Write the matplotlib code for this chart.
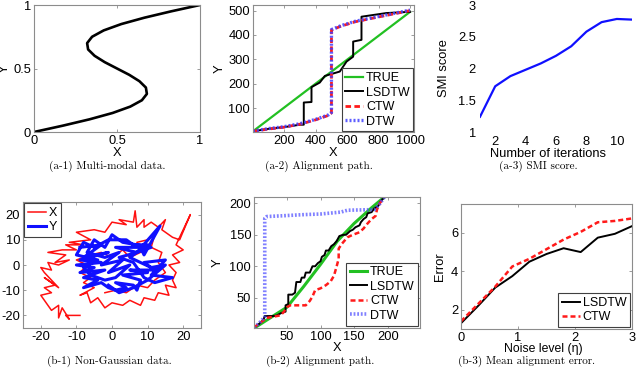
import matplotlib
matplotlib.use('Agg')
import matplotlib.pyplot as plt

plt.rcParams['font.family'] = ['Liberation Sans', 'DejaVu Sans']
plt.rcParams['axes.unicode_minus'] = False

# (a-1) multi-modal data
s_y = [0.0, 0.05, 0.1, 0.15, 0.2, 0.25, 0.3, 0.35, 0.4, 0.45, 0.5,
       0.55, 0.6, 0.65, 0.7, 0.75, 0.8, 0.85, 0.9, 0.95, 1.0]
s_x = [0.0, 0.174, 0.335, 0.474, 0.580, 0.650, 0.680, 0.674, 0.635, 0.574, 0.500,
       0.426, 0.365, 0.326, 0.320, 0.350, 0.420, 0.526, 0.665, 0.826, 1.0]

# (a-2) alignment path
a2_true_x = [1, 1000]
a2_true_y = [5, 495]
a2_lsdtw_x = [1, 100, 200, 300, 324, 324, 373, 373, 426, 458, 553, 596, 638, 638, 691, 691, 850, 1000]
a2_lsdtw_y = [5, 15, 22, 32, 32, 123, 125, 186, 205, 232, 250, 291, 311, 373, 380, 475, 490, 495]
a2_ctw_x = [1, 100, 200, 300, 400, 480, 500, 500, 560, 650, 800, 1000]
a2_ctw_y = [5, 14, 22, 34, 52, 70, 80, 420, 436, 454, 474, 500]
a2_dtw_x = [1, 100, 200, 300, 400, 480, 500, 500, 560, 650, 800, 1000]
a2_dtw_y = [6, 16, 24, 36, 54, 72, 82, 422, 438, 456, 476, 502]

# (a-3) SMI score
iters = [1, 2, 3, 4, 5, 6, 7, 8, 9, 10, 11]
smi = [1.24, 1.72, 1.88, 1.98, 2.08, 2.20, 2.35, 2.58, 2.73, 2.78, 2.77]

# (b-1) non-gaussian data
bx_x = [-9, -13, -12, -14, -15, -15, -17, -19, -20, -17, -19, -16, -19, -15, -19, -20, -17, -18,
        -15, -12, -16, -13, -18, -14, -10, -13, -8, -12, -6, -10, -5, -2, 0, 4, 2, 6, 6.5, 7, 9,
        9, 11, 13, 15, 14, 17, 19, 22, 18, 20, 17, 19, 16, 18, 17, 18, 15, 16, 13, 12, 9, 8, 5,
        3, 0, -2, -4, -6, -7, -9, -5, -8, -6, -9, -7, -10, -6, -3, 0, 3, 5, 8, 7, 10, 12, 11, 14,
        13, 15, 12, 10, 7, 4, 1, -2]
bx_y = [-20, -20, -21.5, -17, -21, -16, -18, -14, -12, -11, -9, -8, -5, -9, -3, -1, -2, 1,
        0, 2, 1, 4, 5, 6, 6, 8, 8, 9, 10, 13, 14, 13, 17, 16, 18, 17, 21.5, 15, 18,
        15, 17, 15, 18, 14, 11, 10, 20, 8, 6, 4, 1, 0, -3, -6, -9, -8, -12, -11, -14, -13, -16, -14,
        -16, -15, -17, -13, -15, -11, -12, -9, -7, -5, -3, 0, 2, 4, 5, 3, 6, 3, 5, 9, 10, 12, 7, 5,
        1, -3, -6, -9, -8, -11, -10, -11]
by_x = [-9, -3, -8, -1, -9, -3, -10, -5, -9, -2, -8, -4, -8, -3, -1, 1, 4, 1, 6, 7, 8, 3, 10, 5,
        12, 9, 15, 11, 17, 12, 9, 6, 2, 7, 1, 8, 9, 13.5, 7, 11, 3, 0, -2, -5, -7, -2, 2, -3,
        3, -1, 5, 1, -2, -6, -8, -4, -10, -8, -5, -1, 4, 6, 10, 5, 11, 15, 10, 6, 2, -1]
by_y = [7, 8, 3, 5, 2, 1, 0, -1, -3, -2, -5, -6, -9, -7, -9, -10, -9, -7, -8, -10, -6, -4, -3, -2,
        -2, 1, 2, -4, -5, -7, -5, 1, 3, 5, 7, 7, 4, 15.5, 5, 7, 9, 12, 7, 10, 5, 3, 5, 0,
        2, -3, 0, -5, -6, -4, -1, 2, 4, 9, 7, 10, 10, 8, 8, 3, -1, 0, -6, -9, -11, -8]

# (b-2) alignment path
b2_true_x = [3, 25, 50, 75, 100, 125, 150, 175, 195]
b2_true_y = [3, 18, 35, 68, 103, 140, 168, 192, 210]
b2_lsdtw_x = [1, 8, 15, 17, 30, 35, 42, 48, 48, 52, 52, 58, 62, 64, 70, 72, 76, 78, 84, 88, 92, 96,
              100, 102, 106, 108, 112, 116, 120, 124, 128, 134, 138, 144, 148, 152, 158, 160, 164,
              168, 170, 176, 180, 186, 190, 195]
b2_lsdtw_y = [3, 8, 15, 21, 21, 22, 26, 28, 38, 40, 55, 55, 58, 75, 75, 82, 82, 90, 90, 100, 100, 105,
              108, 115, 118, 125, 125, 132, 135, 140, 148, 150, 150, 156, 158, 162, 165, 170, 175,
              178, 184, 186, 192, 196, 204, 210]
b2_ctw_x = [1, 10, 20, 30, 40, 45, 50, 55, 65, 78, 84, 88, 92, 100, 108, 115, 120, 124, 127, 127,
            132, 140, 148, 158, 164, 170, 176, 182, 184, 188, 195]
b2_ctw_y = [3, 10, 18, 20, 22, 27, 35, 38, 38, 38, 45, 52, 62, 65, 70, 76, 85, 100, 112, 128,
            136, 146, 150, 154, 160, 168, 175, 180, 190, 200, 210]
b2_dtw_x = [1, 8, 14, 17, 17, 20, 40, 75, 100, 130, 140, 180, 186, 195]
b2_dtw_y = [3, 9, 16, 20, 176, 179, 180, 182, 183, 186, 189, 190, 196, 210]

# (b-3) mean alignment error
noise = [0, 0.3, 0.6, 0.9, 1.2, 1.5, 1.8, 2.1, 2.4, 2.7, 3.0]
err_lsdtw = [1.3, 2.2, 3.15, 3.75, 4.5, 4.9, 5.2, 5.0, 5.75, 5.95, 6.35]
err_ctw = [1.4, 2.3, 3.2, 4.25, 4.65, 5.15, 5.65, 6.05, 6.55, 6.62, 6.75]

W, H = 640.0, 374.0
TFS = 9.3   # tick labels
LFS = 9.3   # axis labels
CAP_A, CAP_B = 166, 361


def box(l, t, r, b):
    # pixel box -> figure fraction
    return [l / W, 1 - b / H, (r - l) / W, (b - t) / H]


def style(ax):
    for sp in ax.spines.values():
        sp.set_color('#8c8c8c')
        sp.set_linewidth(0.8)
    ax.tick_params(direction='in', length=2.5, width=0.6, color='#8c8c8c',
                   labelsize=TFS, pad=2, top=True, right=True, labelcolor='black')


def legend(ax, **kw):
    lg = ax.legend(fontsize=9, handlelength=1.4, handletextpad=0.25, labelspacing=0.2,
                   borderpad=0.3, fancybox=False, framealpha=1, **kw)
    lg.get_frame().set_edgecolor('#404040')
    lg.get_frame().set_linewidth(0.8)
    return lg


fig = plt.figure(figsize=(6.4, 3.74), dpi=100)
cap = dict(ha='center', va='center', fontsize=8, family='cmr10')

# a-1
ax = fig.add_axes(box(34, 5, 200, 132))
ax.plot(s_x, s_y, color='black', lw=1.9)
ax.set_xlim(0, 1)
ax.set_ylim(0, 1)
ax.set_xticks([0, 0.5, 1])
ax.set_yticks([0, 0.5, 1])
ax.set_xticklabels(['0', '0.5', '1'])
ax.set_yticklabels(['0', '0.5', '1'])
style(ax)
ax.set_xlabel('X', fontsize=LFS)
ax.set_ylabel('Y', fontsize=LFS)
ax.xaxis.set_label_coords(0.5, -0.12)
ax.yaxis.set_label_coords(-0.14, 0.5)
fig.text(107 / W, 1 - CAP_A / H, '(a-1) Multi-modal data.', **cap)

# a-2
ax = fig.add_axes(box(253, 5, 414, 132))
ax.plot(a2_true_x, a2_true_y, color='#22c022', lw=1.6, label='TRUE')
ax.plot(a2_lsdtw_x, a2_lsdtw_y, color='black', lw=1.4, label='LSDTW')
ax.plot(a2_ctw_x, a2_ctw_y, color='#ff1a1a', lw=2.0, ls=(0, (2, 1.2)), label='CTW')
ax.plot(a2_dtw_x, a2_dtw_y, color='#4040ff', lw=2.4, ls=(0, (0.6, 0.6)), alpha=0.85, label='DTW')
ax.set_xlim(1, 1025)
ax.set_ylim(2, 523)
ax.set_xticks([200, 400, 600, 800, 1000])
ax.set_yticks([100, 200, 300, 400, 500])
style(ax)
ax.set_xlabel('X', fontsize=LFS)
ax.set_ylabel('Y', fontsize=LFS)
ax.xaxis.set_label_coords(0.5, -0.12)
ax.yaxis.set_label_coords(-0.17, 0.5)
legend(ax, loc='lower right', borderaxespad=0.05)
fig.text(319 / W, 1 - CAP_A / H, '(a-2) Alignment path.', **cap)

# a-3
ax = fig.add_axes(box(480, 5, 632, 132))
ax.plot(iters, smi, color='#1010ff', lw=1.6)
ax.set_xlim(1, 11)
ax.set_ylim(1, 3)
ax.set_xticks([2, 4, 6, 8, 10])
ax.set_yticks([1, 1.5, 2, 2.5, 3])
ax.set_yticklabels(['1', '1.5', '2', '2.5', '3'])
for sp in ax.spines.values():
    sp.set_visible(False)
ax.tick_params(length=0, labelsize=TFS, pad=3)
ax.set_xlabel('Number of iterations', fontsize=LFS)
ax.set_ylabel('SMI score', fontsize=LFS)
ax.xaxis.set_label_coords(0.45, -0.125)
ax.yaxis.set_label_coords(-0.2, 0.5)
fig.text(538 / W, 1 - CAP_A / H, '(a-3) SMI score.', **cap)

# b-1
ax = fig.add_axes(box(23, 202, 201, 328))
ax.plot(bx_x, bx_y, color='#ff1010', lw=1.1, label='X')
ax.plot(by_x, by_y, color='#1010ff', lw=2.2, label='Y')
ax.set_xlim(-25, 25)
ax.set_ylim(-25, 25)
ax.set_xticks([-20, -10, 0, 10, 20])
ax.set_yticks([-20, -10, 0, 10, 20])
style(ax)
legend(ax, loc='upper left', borderaxespad=0.1)
fig.text(109 / W, 1 - CAP_B / H, '(b-1) Non-Gaussian data.', **cap)

# b-2
ax = fig.add_axes(box(254, 197, 420, 328))
ax.plot(b2_true_x, b2_true_y, color='#22c022', lw=2.2, label='TRUE')
ax.plot(b2_lsdtw_x, b2_lsdtw_y, color='black', lw=1.4, label='LSDTW')
ax.plot(b2_ctw_x, b2_ctw_y, color='#ff1a1a', lw=1.8, ls=(0, (2, 1.2)), label='CTW')
ax.plot(b2_dtw_x, b2_dtw_y, color='#4a4aff', lw=2.6, ls=(0, (0.5, 0.5)), alpha=0.7, label='DTW')
ax.set_xlim(1, 248)
ax.set_ylim(2, 210)
ax.set_xticks([50, 100, 150, 200])
ax.set_yticks([50, 100, 150, 200])
style(ax)
ax.set_xlabel('X', fontsize=LFS)
ax.set_ylabel('Y', fontsize=LFS)
ax.xaxis.set_label_coords(0.5, -0.105)
ax.yaxis.set_label_coords(-0.18, 0.5)
legend(ax, loc='lower right', borderaxespad=0.2)
fig.text(320 / W, 1 - CAP_B / H, '(b-2) Alignment path.', **cap)

# b-3
ax = fig.add_axes(box(461, 204, 632, 329))
ax.plot(noise, err_lsdtw, color='black', lw=1.4, label='LSDTW')
ax.plot(noise, err_ctw, color='#ff1a1a', lw=1.8, ls=(0, (2, 1.2)), label='CTW')
ax.set_xlim(0, 3)
ax.set_ylim(1, 7.5)
ax.set_xticks([0, 1, 2, 3])
ax.set_yticks([2, 4, 6])
style(ax)
ax.set_xlabel('Noise level (\u03b7)', fontsize=8.8)
ax.set_ylabel('Error', fontsize=LFS)
ax.xaxis.set_label_coords(0.48, -0.112)
ax.yaxis.set_label_coords(-0.09, 0.5)
legend(ax, loc='lower right', borderaxespad=0.15)
fig.text(527 / W, 1 - CAP_B / H, '(b-3) Mean alignment error.', **cap)

fig.savefig('out.png', dpi=100)
